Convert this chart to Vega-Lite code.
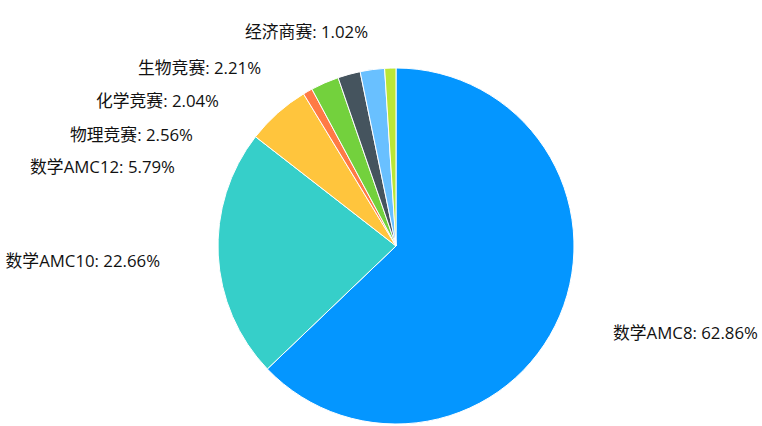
{
  "$schema": "https://vega.github.io/schema/vega-lite/v6.json",
  "width": 732,
  "height": 356,
  "autosize": {"type": "none"},
  "padding": {"left": 30, "top": 68, "right": 0, "bottom": 2},
  "background": "#ffffff",
  "config": {"view": {"stroke": null}},
  "data": {
    "values": [
      {"name": "数学AMC8", "value": 62.86, "order": 1, "label": "数学AMC8: 62.86%"},
      {"name": "数学AMC10", "value": 22.66, "order": 2, "label": "数学AMC10: 22.66%"},
      {"name": "数学AMC12", "value": 5.79, "order": 3, "label": "数学AMC12: 5.79%"},
      {"name": "其他", "value": 0.86, "order": 4, "label": "其他: 0.86%"},
      {"name": "物理竞赛", "value": 2.56, "order": 5, "label": "物理竞赛: 2.56%"},
      {"name": "化学竞赛", "value": 2.04, "order": 6, "label": "化学竞赛: 2.04%"},
      {"name": "生物竞赛", "value": 2.21, "order": 7, "label": "生物竞赛: 2.21%"},
      {"name": "经济商赛", "value": 1.02, "order": 8, "label": "经济商赛: 1.02%"}
    ]
  },
  "layer": [
    {
      "mark": {"type": "arc", "outerRadius": 178, "stroke": "#ffffff", "strokeWidth": 1},
      "encoding": {
        "theta": {"field": "value", "type": "quantitative", "stack": true},
        "order": {"field": "order", "type": "quantitative", "sort": "ascending"},
        "color": {
          "field": "name",
          "type": "nominal",
          "legend": null,
          "scale": {
            "domain": ["数学AMC8", "数学AMC10", "数学AMC12", "其他", "物理竞赛", "化学竞赛", "生物竞赛", "经济商赛"],
            "range": ["#0496ff", "#36cfc9", "#ffc53d", "#ff7a45", "#73d13d", "#45545e", "#69c0ff", "#bae637"]
          }
        }
      }
    },
    {
      "transform": [{"filter": "datum.order >= 2 && datum.order != 4"}],
      "mark": {"type": "text", "align": "right", "baseline": "middle", "fontSize": 16.8, "font": "Open Sans, Noto Sans CJK SC", "color": "#111111"},
      "encoding": {
        "theta": {
          "field": "order", "type": "quantitative", "stack": null,
          "scale": {"type": "linear", "domain": [2, 3, 5, 6, 7, 8], "range": [4.6447, 5.0517, 5.2089, 5.3953, 5.6317, 6.1525], "nice": false, "zero": false}
        },
        "radius": {
          "field": "order", "type": "quantitative",
          "scale": {"type": "linear", "domain": [2, 3, 5, 6, 7, 8], "range": [236.5, 234.4, 230.9, 228.2, 222.6, 214.8], "nice": false, "zero": false}
        },
        "text": {"field": "label", "type": "nominal"}
      }
    },
    {
      "transform": [{"filter": "datum.order == 1"}],
      "mark": {"type": "text", "align": "left", "baseline": "middle", "fontSize": 16.8, "font": "Open Sans, Noto Sans CJK SC", "color": "#111111"},
      "encoding": {
        "theta": {
          "field": "order", "type": "quantitative", "stack": null,
          "scale": {"type": "linear", "domain": [0, 1], "range": [0, 1.956], "nice": false, "zero": false}
        },
        "radius": {
          "field": "order", "type": "quantitative",
          "scale": {"type": "linear", "domain": [0, 1], "range": [0, 234.2], "nice": false, "zero": false}
        },
        "text": {"field": "label", "type": "nominal"}
      }
    }
  ],
  "resolve": {"scale": {"theta": "independent", "radius": "independent"}}
}
